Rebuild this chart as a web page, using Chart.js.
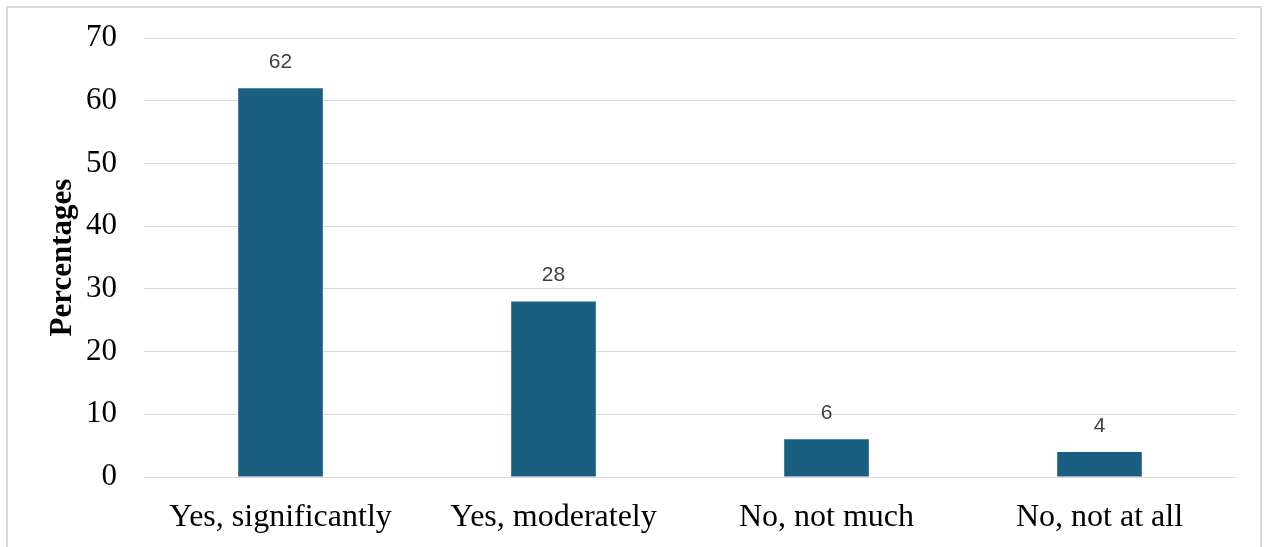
<!DOCTYPE html>
<html>
<head>
<meta charset="utf-8">
<script src="https://cdn.jsdelivr.net/npm/chart.js@4"></script>
<style>
  html, body { margin: 0; padding: 0; background: #ffffff; overflow: hidden; }
  #wrap { position: relative; width: 1265px; height: 547px; }
  #frame { position: absolute; left: 6px; top: 6px; width: 1256px; height: 600px; border: 2px solid #d9d9d9; box-sizing: border-box; pointer-events: none; }
  canvas { position: absolute; left: 0; top: 0; }
</style>
</head>
<body>
<div id="wrap">
  <canvas id="c" width="1265" height="547"></canvas>
  <div id="frame"></div>
</div>
<script>
const categories = ["Yes, significantly", "Yes, moderately", "No, not much", "No, not at all"];
const percentages = [62, 28, 6, 4];
const yTicks = [0, 10, 20, 30, 40, 50, 60, 70];

const barLabels = {
  id: 'barLabels',
  afterDatasetsDraw(chart) {
    const ctx = chart.ctx;
    const meta = chart.getDatasetMeta(0);
    ctx.save();
    ctx.font = '21px "Liberation Sans", Arial, sans-serif';
    ctx.fillStyle = '#404040';
    ctx.textAlign = 'center';
    ctx.textBaseline = 'middle';
    meta.data.forEach((bar, i) => {
      ctx.fillText(String(chart.data.datasets[0].data[i]), bar.x, bar.y - 26);
    });
    ctx.restore();
  }
};

new Chart(document.getElementById('c'), {
  type: 'bar',
  data: {
    labels: categories,
    datasets: [{
      data: percentages,
      backgroundColor: '#1a5f81',
      borderWidth: 0,
      barPercentage: 0.62,
      categoryPercentage: 0.5
    }]
  },
  options: {
    responsive: false,
    animation: false,
    devicePixelRatio: 1,
    layout: { padding: { top: 38, right: 29, left: 0, bottom: 0 } },
    plugins: { legend: { display: false }, tooltip: { enabled: false } },
    scales: {
      x: {
        grid: { display: false },
        border: { display: false },
        ticks: {
          color: '#000000',
          font: { family: '"Liberation Serif", "Times New Roman", serif', size: 32 },
          padding: 13,
          maxRotation: 0,
          autoSkip: false
        },
        afterFit(scale) { scale.height = 70; scale.paddingLeft = 0; scale.paddingRight = 0; }
      },
      y: {
        min: 0,
        max: 70,
        afterBuildTicks(scale) { scale.ticks = yTicks.map(v => ({ value: v })); },
        grid: { color: '#d9d9d9', lineWidth: 1, drawTicks: false },
        border: { display: false },
        ticks: {
          color: '#000000',
          font: { family: '"Liberation Serif", "Times New Roman", serif', size: 31 },
          padding: 27
        },
        title: {
          display: true,
          text: 'Percentages',
          color: '#000000',
          font: { family: '"Liberation Serif", "Times New Roman", serif', size: 31, weight: 'bold' },
          padding: { top: 44, bottom: 0 }
        },
        afterFit(scale) { scale.width = 144; scale.paddingTop = 0; scale.paddingBottom = 0; }
      }
    }
  },
  plugins: [barLabels]
});
</script>
</body>
</html>
